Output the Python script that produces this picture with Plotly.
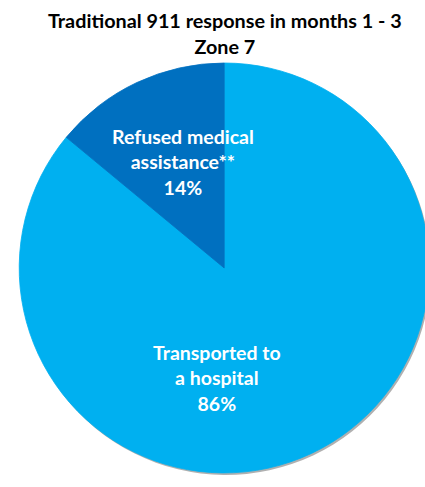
import plotly.graph_objects as go

labels = ["Transported to<br>a hospital", "Refused medical<br>assistance**"]
values = [86, 14]
colors = ["#00B0F0", "#0070C0"]
title_lines = ["Traditional 911 response in months 1 - 3", "Zone 7"]

W, H = 431, 487
ml, mt, mb = 19, 63, 12

fig = go.Figure()
# soft shadow
fig.add_trace(go.Pie(
    values=values, labels=labels, sort=False, direction="clockwise",
    marker=dict(colors=["rgba(80,80,80,0.45)"] * 2, line=dict(width=0)),
    textinfo="none", hoverinfo="skip", showlegend=False,
    domain=dict(x=[0.004, 1.0], y=[0.0, 0.995]),
))
fig.add_trace(go.Pie(
    values=values, labels=labels, sort=False, direction="clockwise",
    marker=dict(colors=colors, line=dict(color=colors, width=0.8)),
    textinfo="none", showlegend=False,
    domain=dict(x=[0, 0.996], y=[0.005, 1.0]),
))

label_pos = [(0.48, 0.235), (0.398, 0.76)]
for (lx, ly), lab, v in zip(label_pos, labels, values):
    fig.add_annotation(
        x=lx, y=ly, xref="paper", yref="paper", showarrow=False,
        xanchor="center", yanchor="middle",
        text=f"{lab}<br>{v}%", align="center",
        font=dict(family="Lato", size=19.5, color="white", weight="bold"),
    )

fig.add_annotation(
    x=0.5, y=1, xref="paper", yref="paper", showarrow=False,
    xanchor="center", yanchor="bottom", yshift=3,
    text="<br>".join(title_lines), align="center",
    font=dict(family="Lato", size=19.8, color="black", weight="bold"),
)

fig.update_layout(
    width=W, height=H,
    margin=dict(l=ml, r=0, t=mt, b=mb),
    paper_bgcolor="white", plot_bgcolor="white",
)

fig.write_html("out.html",
               post_script="document.body.style.margin='0';document.body.style.overflow='hidden';document.documentElement.style.overflow='hidden';")
